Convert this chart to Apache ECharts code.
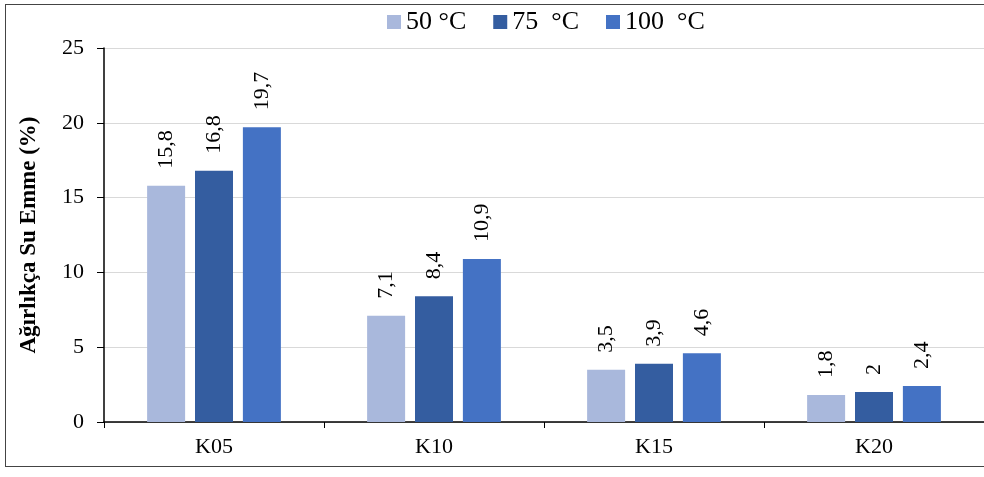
<!DOCTYPE html>
<html><head><meta charset="utf-8">
<script src="https://cdn.jsdelivr.net/npm/echarts@6/dist/echarts.min.js"></script>
<style>html,body{margin:0;padding:0;background:#fff}#c{width:984px;height:477px;}
#frame{position:absolute;left:5px;top:4px;width:990px;height:463px;border:1.5px solid #444;box-sizing:border-box;pointer-events:none}</style>
</head><body><div id="c"></div><div id="frame"></div>
<script>
const categories = ['K05','K10','K15','K20'];
const seriesNames = ['50 °C','75  °C','100  °C'];
const v50 = [15.8, 7.1, 3.5, 1.8];
const v75 = [16.8, 8.4, 3.9, 2];
const v100 = [19.7, 10.9, 4.6, 2.4];
const colors = ['#A9B8DC','#345DA0','#4472C4'];
const font = 'Liberation Serif';
const chart = echarts.init(document.getElementById('c'));
function mk(name, data, color){
  return {name, type:'bar', data, barWidth:38, barGap:'26%',
    itemStyle:{color},
    label:{show:true, position:'top', rotate:90, align:'left', verticalAlign:'middle', distance:17,
      fontFamily:font, fontSize:22, color:'#000',
      formatter:p=>String(p.value).replace('.',',')}};
}
chart.setOption({
  animation:false,
  textStyle:{fontFamily:font},
  legend:{top:4, left:382, itemWidth:14, itemHeight:14, itemGap:27,
    icon:'rect', textStyle:{fontFamily:font, fontSize:26, color:'#000'}},
  grid:{left:104, right:0, top:48, bottom:55, containLabel:false},
  xAxis:{type:'category', data:categories,
    axisLine:{lineStyle:{color:'#000', width:1.5}},
    axisTick:{show:true, length:6, lineStyle:{color:'#000'}},
    axisLabel:{fontFamily:font, fontSize:22, color:'#000', margin:14}},
  yAxis:{type:'value', min:0, max:25, interval:5,
    name:'Ağırlıkça Su Emme (%)', nameLocation:'middle', nameGap:63,
    nameTextStyle:{fontFamily:font, fontSize:23, fontWeight:'bold', color:'#000'},
    axisLine:{show:true, lineStyle:{color:'#000', width:1.5}},
    axisTick:{show:true, length:7, lineStyle:{color:'#000'}},
    axisLabel:{fontFamily:font, fontSize:22, color:'#000', margin:20},
    splitLine:{lineStyle:{color:'#D9D9D9', width:1}}},
  series:[mk(seriesNames[0], v50, colors[0]), mk(seriesNames[1], v75, colors[1]), mk(seriesNames[2], v100, colors[2])]
});
</script></body></html>
